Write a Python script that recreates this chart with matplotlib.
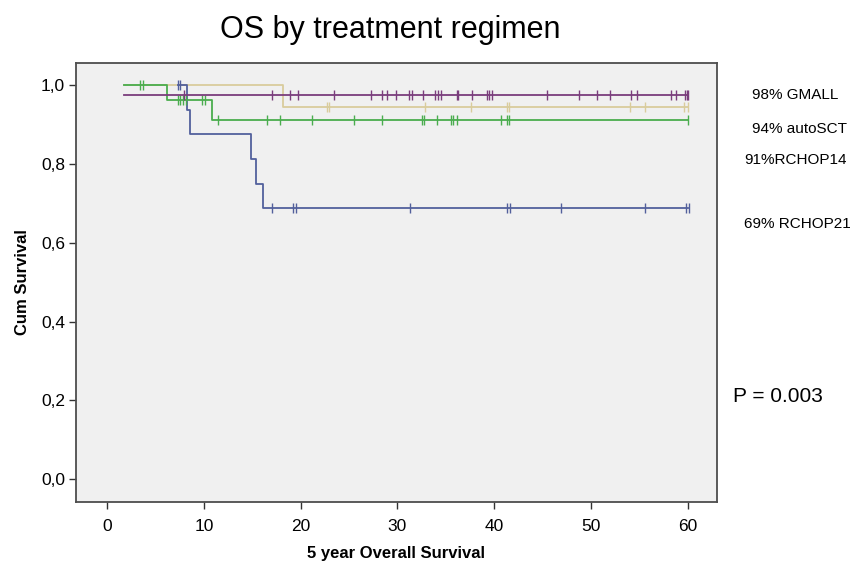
import numpy as np
import matplotlib
matplotlib.use("Agg")
import matplotlib.pyplot as plt

plt.rcParams['font.family'] = ['Liberation Sans', 'DejaVu Sans']

# step curves: time of each level start, survival level
gmall_t = [1.8, 60.0]
gmall_s = [0.976, 0.976]
gmall_cens = [8.0, 17.0, 18.9, 19.7, 23.4, 27.3, 28.4, 28.9, 29.9, 31.2, 31.5, 32.6,
              33.9, 34.2, 34.5, 36.1, 36.3, 37.7, 39.2, 39.5, 39.8, 45.4, 48.7, 50.6,
              52.0, 54.1, 54.7, 58.3, 58.8, 59.7, 59.9, 60.0]

autosct_t = [1.8, 18.2, 60.0]
autosct_s = [1.0, 0.944, 0.944]
autosct_cens = [22.7, 22.9, 32.8, 37.6, 41.3, 41.5, 54.0, 55.6, 59.6, 60.0]

rchop14_t = [1.8, 6.2, 10.8, 60.0]
rchop14_s = [1.0, 0.962, 0.911, 0.911]
rchop14_cens = [3.4, 3.7, 7.3, 7.5, 7.8, 8.2, 9.8, 10.1, 11.5, 16.5, 17.9, 21.2, 25.5,
                28.4, 32.5, 32.7, 34.1, 35.5, 35.7, 36.1, 40.7, 41.3, 41.5, 60.0]

rchop21_t = [7.3, 8.3, 8.6, 14.9, 15.4, 16.1, 60.0]
rchop21_s = [1.0, 0.9375, 0.875, 0.8125, 0.75, 0.6875, 0.6875]
rchop21_cens = [7.3, 7.5, 17.0, 19.2, 19.5, 31.3, 41.3, 41.6, 46.9, 55.6, 59.8, 60.1]

labels = ["98% GMALL", "94% autoSCT", "91%RCHOP14", "69% RCHOP21"]

groups = [
    (autosct_t, autosct_s, autosct_cens, "#d9cc9c"),
    (rchop21_t, rchop21_s, rchop21_cens, "#52609c"),
    (rchop14_t, rchop14_s, rchop14_cens, "#4aad4e"),
    (gmall_t, gmall_s, gmall_cens, "#7a3d7c"),
]

fig = plt.figure(figsize=(8.62, 5.64), dpi=100)
ax = fig.add_axes([76 / 862, 1 - 502 / 564, 641 / 862, 439 / 564])
ax.set_facecolor("#f0f0f0")

for t, s, cens, col in groups:
    ax.step(t, s, where="post", color=col, lw=1.3)
    t_arr = np.array(t)
    idx = np.searchsorted(t_arr, cens, side="right") - 1
    idx = np.clip(idx, 0, len(s) - 1)
    ax.plot(cens, np.array(s)[idx], ls="none", marker="|", ms=7, mew=1.0, color=col)

ax.set_xlim(-3.2, 63.0)
ax.set_ylim(-0.058, 1.056)
ax.set_xticks(np.arange(0, 61, 10))
ax.set_yticks(np.arange(0, 1.01, 0.2))
ax.set_yticklabels([f"{v:.1f}".replace(".", ",") for v in np.arange(0, 1.01, 0.2)])
ax.tick_params(axis="both", labelsize=12.5, length=5, width=1.0, color="#333333",
               top=False, right=False)
ax.tick_params(axis="x", pad=7)
ax.tick_params(axis="y", pad=3)
for sp in ax.spines.values():
    sp.set_color("#4d4d4d")
    sp.set_linewidth(1.3)

ax.set_xlabel("5 year Overall Survival", fontsize=12, fontweight="bold", labelpad=9)
ax.set_ylabel("Cum Survival", fontsize=12, fontweight="bold", labelpad=8)

fig.text(390 / 862, 1 - 30 / 564, "OS by treatment regimen", ha="center", va="center",
         fontsize=22)

label_pos = [(752, 95), (752, 129), (744, 160), (744, 224)]
for lab, (px, py) in zip(labels, label_pos):
    fig.text(px / 862, 1 - py / 564, lab, ha="left", va="center", fontsize=11)
fig.text(733 / 862, 1 - 396 / 564, "P = 0.003", ha="left", va="center", fontsize=15)

fig.savefig("out.png", dpi=100)
